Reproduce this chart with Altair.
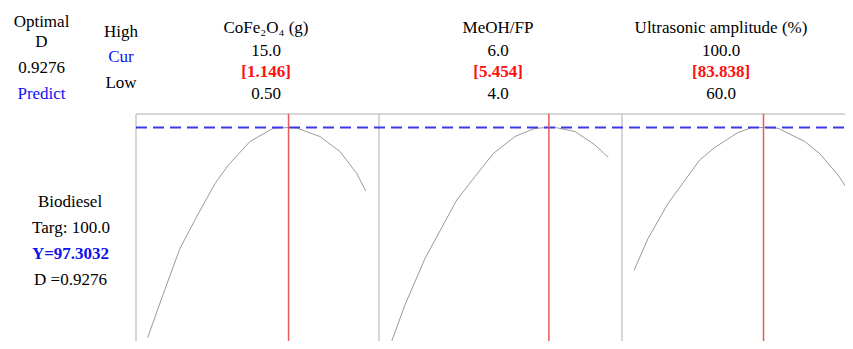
import altair as alt
import pandas as pd

# ---------------- data ----------------
factor_names = ["CoFe\u2082O\u2084 (g)", "MeOH/FP", "Ultrasonic amplitude (%)"]
high_labels = ["15.0", "6.0", "100.0"]
cur_labels = ["[1.146]", "[5.454]", "[83.838]"]
low_labels = ["0.50", "4.0", "60.0"]
cur_values = [1.146, 5.454, 83.838]
x_low = [0.5, 4.0, 60.0]
x_high = [1.5, 6.0, 100.0]

optimal_labels = ["Optimal", "D", "0.9276", "Predict"]
row_labels = ["High", "Cur", "Low"]
response_labels = ["Biodiesel", "Targ: 100.0", "Y=97.3032", "D =0.9276"]
y_pred = 97.3032

cofe_x = [0.500, 0.572, 0.648, 0.725, 0.809, 0.870, 0.969, 1.076, 1.146, 1.183, 1.290, 1.382, 1.459, 1.500]
cofe_y = [55.3, 64.1, 73.1, 79.5, 86.1, 89.8, 94.5, 97.15, 97.30, 97.2, 95.5, 92.5, 88.1, 84.6]

meoh_x = [4.000, 4.131, 4.315, 4.607, 4.775, 4.943, 5.142, 5.326, 5.454, 5.526, 5.694, 5.878, 6.000]
meoh_y = [54.0, 61.8, 71.1, 82.8, 87.5, 92.1, 95.5, 97.15, 97.30, 97.25, 96.5, 93.8, 91.3]

ultra_x = [60.0, 62.58, 66.26, 72.09, 74.85, 79.14, 81.59, 83.838, 86.51, 91.42, 94.18, 97.55, 100.0]
ultra_y = [68.7, 75.1, 82.1, 90.8, 93.3, 96.3, 97.25, 97.30, 97.15, 94.5, 92.1, 87.8, 83.8]

curves_x = [cofe_x, meoh_x, ultra_x]
curves_y = [cofe_y, meoh_y, ultra_y]

# ---------------- layout ----------------
W, H = 837, 333   # page is 853x349 with an 8px margin on every side
OFF = 8
FONT = "Liberation Serif"
FS = 17
BLUE = "#1010F0"
RED = "#FF1010"

yscale = alt.Scale(domain=[54.6, 100], range=[H, 106])
panel_left = [136, 379, 622]          # page x of panel borders
curve_range = [[147.7, 365.7], [390.7, 608.3], [634.0, 851.3]]  # page x of low/high
header_x = [266, 498, 721]

one = pd.DataFrame({"_": [0]})
layers = []


def txt(s, x, y, color="black", bold=False):
    return alt.Chart(one).mark_text(
        text=s, font=FONT, fontSize=FS, align="center", baseline="alphabetic",
        color=color, fontWeight="bold" if bold else "normal"
    ).encode(x=alt.value(x - OFF), y=alt.value(y - OFF))


# borders
border_color = "#C8C8C8"
layers.append(alt.Chart(one).mark_rule(color=border_color, strokeWidth=1.5).encode(
    x=alt.value(panel_left[0] - OFF), x2=alt.value(W), y=alt.value(114 - OFF)))
for px in panel_left:
    layers.append(alt.Chart(one).mark_rule(color=border_color, strokeWidth=1.5).encode(
        x=alt.value(px - OFF), y=alt.value(114 - OFF), y2=alt.value(H)))

# curves
for i in range(3):
    xs = alt.Scale(domain=[x_low[i], x_high[i]],
                   range=[curve_range[i][0] - OFF, curve_range[i][1] - OFF])
    df = pd.DataFrame({"x": curves_x[i], "y": curves_y[i]})
    layers.append(alt.Chart(df).mark_line(color="#9A9A9A", strokeWidth=1).encode(
        x=alt.X("x:Q", scale=xs, axis=None),
        y=alt.Y("y:Q", scale=yscale, axis=None)))

# dashed predicted line
layers.append(alt.Chart(one).mark_rule(color="#3A3AE8", strokeWidth=2, strokeDash=[11, 6]).encode(
    x=alt.value(panel_left[0] - OFF), x2=alt.value(W),
    y=alt.YDatum(y_pred, scale=yscale, axis=None)))

# red current-setting lines
for i in range(3):
    xs = alt.Scale(domain=[x_low[i], x_high[i]],
                   range=[curve_range[i][0] - OFF, curve_range[i][1] - OFF])
    layers.append(alt.Chart(one).mark_rule(color="#E8595C", strokeWidth=1.5).encode(
        x=alt.XDatum(cur_values[i], scale=xs, axis=None),
        y=alt.value(114 - OFF), y2=alt.value(H)))

# texts top-left
opt_y = [26.7, 47.3, 73.3, 99]
opt_col = ["black", "black", "black", BLUE]
for s, y, c in zip(optimal_labels, opt_y, opt_col):
    layers.append(txt(s, 41.5, y, c))

row_y = [36.7, 62.3, 88.3]
row_col = ["black", BLUE, "black"]
for s, y, c in zip(row_labels, row_y, row_col):
    layers.append(txt(s, 121, y, c))

for i in range(3):
    layers.append(txt(factor_names[i], header_x[i], 32.7))
    layers.append(txt(high_labels[i], header_x[i], 56))
    layers.append(txt(cur_labels[i], header_x[i], 77.3, RED, bold=True))
    layers.append(txt(low_labels[i], header_x[i], 99.3))

resp_y = [207.3, 233.3, 259.3, 285.3]
resp_x = [70, 71, 70.5, 70.5]
resp_col = ["black", "black", BLUE, "black"]
resp_bold = [False, False, True, False]
for s, x, y, c, b in zip(response_labels, resp_x, resp_y, resp_col, resp_bold):
    layers.append(txt(s, x, y, c, b))

chart = alt.layer(*layers).resolve_scale(x="independent").properties(
    width=W, height=H, autosize=alt.AutoSizeParams(type="none"), padding=0
).configure_view(stroke=None)

chart.save("out.html", embed_options={"renderer": "svg", "actions": False})
